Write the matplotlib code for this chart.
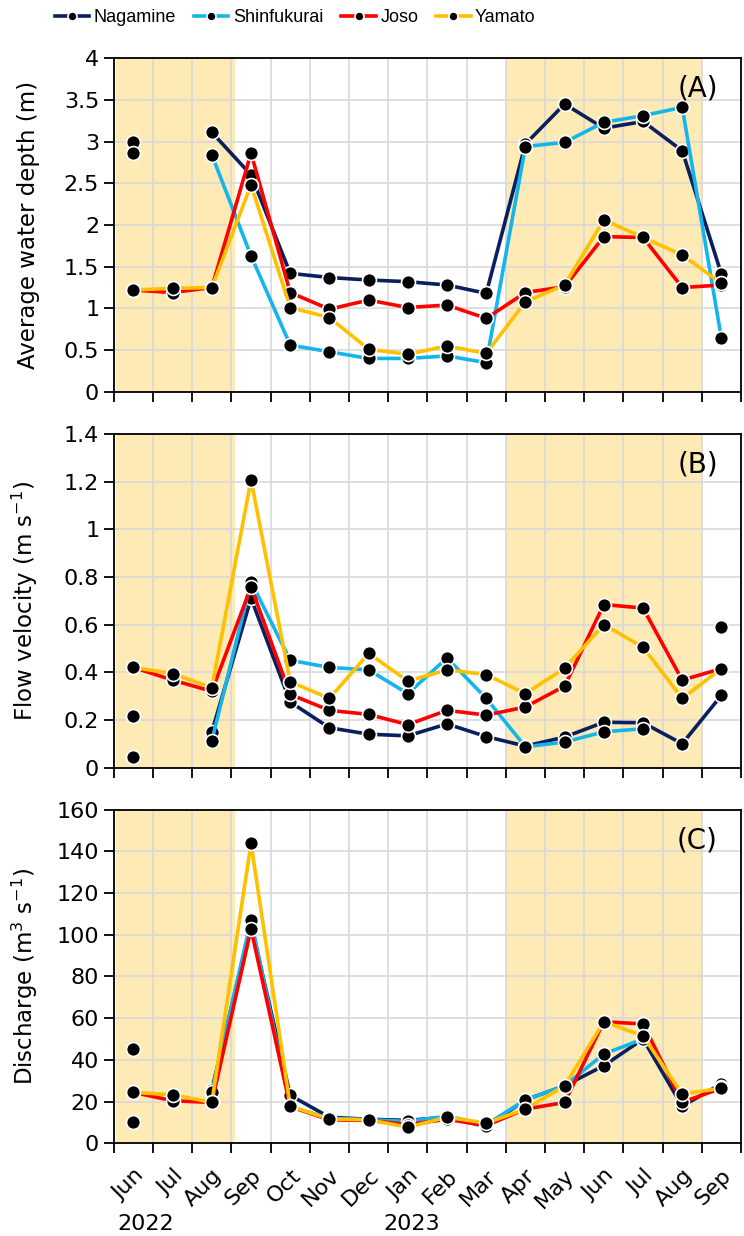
"""Monthly water depth, flow velocity and discharge at four sites"""
import numpy as np
import matplotlib
matplotlib.use("Agg")
import matplotlib.pyplot as plt
from matplotlib.ticker import FormatStrFormatter, MultipleLocator

nan = np.nan

months = ['Jun', 'Jul', 'Aug', 'Sep', 'Oct', 'Nov', 'Dec', 'Jan',
          'Feb', 'Mar', 'Apr', 'May', 'Jun', 'Jul', 'Aug', 'Sep']
years = ['2022', '2023']
sites = ['Nagamine', 'Shinfukurai', 'Joso', 'Yamato']

# (A) average water depth (m)
depth_nagamine = [2.99, nan, 3.11, 2.60, 1.42, 1.37, 1.34, 1.32, 1.28, 1.18, 2.97, 3.45, 3.16, 3.24, 2.89, 1.41]
depth_shinfukurai = [2.86, nan, 2.84, 1.63, 0.56, 0.48, 0.40, 0.40, 0.43, 0.35, 2.94, 2.99, 3.23, 3.31, 3.41, 0.64]
depth_joso = [1.22, 1.19, 1.25, 2.86, 1.19, 0.99, 1.10, 1.01, 1.04, 0.88, 1.19, 1.26, 1.86, 1.85, 1.25, 1.28]
depth_yamato = [1.22, 1.24, 1.25, 2.48, 1.01, 0.89, 0.51, 0.45, 0.55, 0.46, 1.08, 1.28, 2.06, 1.85, 1.64, 1.30]

# (B) flow velocity (m/s)
vel_nagamine = [0.215, nan, 0.15, 0.71, 0.275, 0.167, 0.14, 0.133, 0.183, 0.13, 0.09, 0.128, 0.19, 0.188, 0.10, 0.303]
vel_shinfukurai = [0.046, nan, 0.112, 0.78, 0.45, 0.42, 0.41, 0.31, 0.46, 0.29, 0.087, 0.107, 0.15, 0.163, nan, 0.589]
vel_joso = [0.42, 0.367, 0.32, 0.758, 0.307, 0.24, 0.223, 0.18, 0.24, 0.22, 0.254, 0.342, 0.684, 0.669, 0.367, 0.415]
vel_yamato = [0.42, 0.394, 0.335, 1.207, 0.36, 0.29, 0.479, 0.363, 0.41, 0.39, 0.31, 0.417, 0.60, 0.505, 0.29, 0.415]

# (C) discharge (m3/s)
q_nagamine = [45, nan, 25.6, 105, 23, 12.5, 11.5, 11, 12.5, 8, 20.8, 27.6, 37.2, 50, 17.8, 28.5]
q_shinfukurai = [10.4, nan, 24.5, 107, 17.5, 12, 11.3, 10.5, 13, 9, 20.8, 27.6, 42.8, 50, nan, 27]
q_joso = [24.4, 20.4, 19.6, 102.7, 17.6, 11.2, 11, 9, 11.5, 8.5, 16.4, 19.6, 58.3, 57.2, 19.7, 26.4]
q_yamato = [24.4, 23.3, 19.6, 143.8, 17.8, 11.6, 11.3, 7.7, 12.5, 9.7, 16.4, 27.6, 58.3, 51.5, 23.6, 26.4]

colors = ['#0b1f5e', '#14b4ec', '#ff0000', '#ffc000']
shade = '#fdeab5'

plt.rcParams['font.family'] = ['DejaVu Sans']

fig = plt.figure(figsize=(7.44, 12.36), dpi=100)

panels = [
    ([depth_nagamine, depth_shinfukurai, depth_joso, depth_yamato],
     'Average water depth (m)', 4, 0.5, '(A)', 0.953),
    ([vel_nagamine, vel_shinfukurai, vel_joso, vel_yamato],
     'Flow velocity (m s$^{-1}$)', 1.4, 0.2, '(B)', 0.649),
    ([q_nagamine, q_shinfukurai, q_joso, q_yamato],
     'Discharge (m$^{3}$ s$^{-1}$)', 160, 20, '(C)', 0.345),
]

x = np.arange(len(months)) + 0.5
axes = []

for series, ylabel, ymax, ystep, tag, top in panels:
    ax = fig.add_axes([0.153, top - 0.270, 0.843, 0.270])
    axes.append(ax)

    # wet season shading
    ax.axvspan(0.05, 3.1, color=shade, zorder=0, lw=0)
    ax.axvspan(10.0, 15.0, color=shade, zorder=0, lw=0)

    for k, vals in enumerate(series):
        ax.plot(x, vals, color=colors[k], lw=2.6, marker='o', ms=10,
                mfc='black', mec='white', mew=1.2, label=sites[k], zorder=3)

    ax.set_xlim(0, 16)
    ax.set_ylim(0, ymax)
    ax.yaxis.set_major_locator(MultipleLocator(ystep))
    ax.yaxis.set_major_formatter(FormatStrFormatter('%g'))
    ax.set_xticks(np.arange(17))
    ax.set_xticklabels([])
    ax.grid(True, color='#d9d9d9', lw=1.2, zorder=1)
    ax.set_axisbelow(True)
    ax.tick_params(axis='both', direction='out', length=7, width=1.3,
                   labelsize=16, color='black')
    ax.tick_params(axis='x', which='minor', length=0)
    for sp in ax.spines.values():
        sp.set_linewidth(1.3)
    ax.set_ylabel(ylabel, fontsize=16.5)
    ax.text(0.963, 0.95, tag, transform=ax.transAxes, ha='right', va='top',
            fontsize=20)

for ax in axes:
    ax.yaxis.set_label_coords(-0.118, 0.5)

# month labels on the bottom panel only
ax = axes[-1]
ax.set_xticks(x, minor=True)
ax.set_xticklabels(months, minor=True, rotation=45, ha='right',
                   rotation_mode='anchor', fontsize=16)
ax.tick_params(axis='x', which='minor', pad=16)
ax.text(0.82, -0.2425, years[0], transform=ax.get_xaxis_transform(),
        ha='center', va='center', fontsize=16)
ax.text(7.6, -0.2425, years[1], transform=ax.get_xaxis_transform(),
        ha='center', va='center', fontsize=16)

handles, labels = axes[0].get_legend_handles_labels()
fig.legend(handles, labels, loc='upper left', bbox_to_anchor=(0.052, 1.006),
           ncol=4, frameon=False, handlelength=1.9,
           handletextpad=0.25, columnspacing=1.0, markerscale=0.65,
           prop={'family': 'Liberation Sans', 'size': 13})

fig.savefig('out.png', dpi=100)
